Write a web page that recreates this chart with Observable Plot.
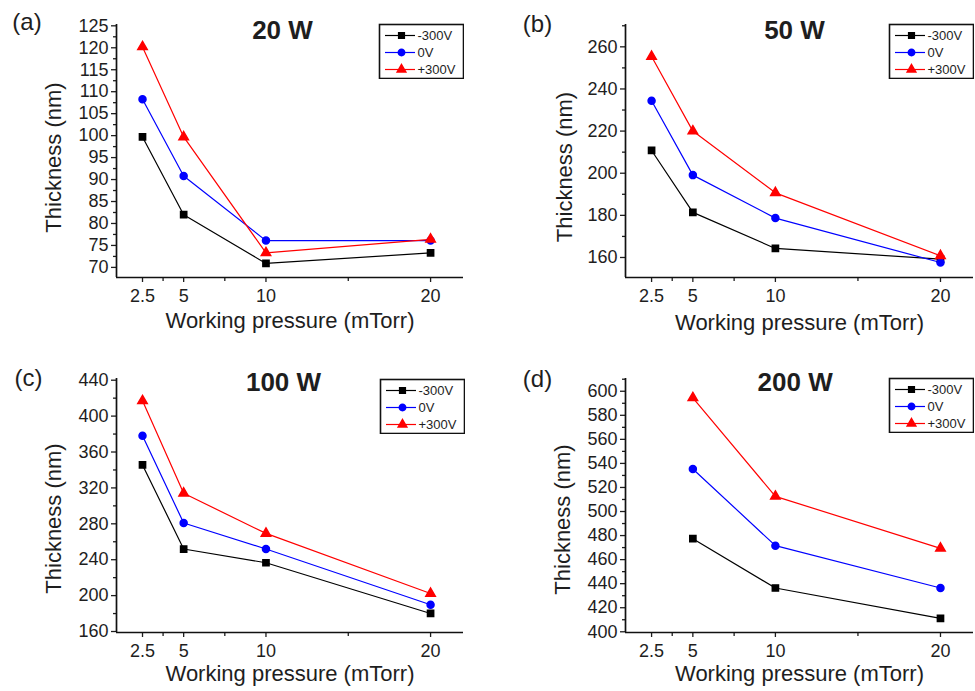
<!DOCTYPE html>
<html><head><meta charset="utf-8">
<script src="https://cdn.jsdelivr.net/npm/d3@7"></script>
<script src="https://cdn.jsdelivr.net/npm/@observablehq/plot@0.6"></script>
<style>
body{margin:0;background:#fff;}
#root{position:relative;width:975px;height:691px;overflow:hidden;background:#fff;font-family:"Liberation Sans",Arial,sans-serif;}
.box{position:absolute;}
</style></head><body><div id="root"></div>
<script>
// ---------- data ----------
const pressures = [2.5, 5, 10, 20];
const pressures200 = [5, 10, 20];
const pressureTicks = [2.5, 5, 10, 20];
const pressureMinorTicks = [3.75, 7.5, 15];
const biasSeries = ["-300V", "0V", "+300V"];
const seriesColors = ["#000000", "#0000ff", "#ff0000"];
const seriesSymbols = ["square", "circle", "triangle"];
const panelLetters = ["(a)", "(b)", "(c)", "(d)"];
const panelTitles = ["20 W", "50 W", "100 W", "200 W"];
const yTitle = "Thickness (nm)";
const xTitle = "Working pressure (mTorr)";

const w20_m300 = [99.7, 82.0, 70.9, 73.3];
const w20_0 = [108.3, 90.8, 76.1, 76.1];
const w20_p300 = [120.2, 99.7, 73.3, 76.4];

const w50_m300 = [210.8, 181.4, 164.3, 159.2];
const w50_0 = [234.4, 199.1, 178.7, 157.6];
const w50_p300 = [255.4, 220.0, 190.7, 160.8];

const w100_m300 = [345.6, 251.9, 236.6, 180.1];
const w100_0 = [378.0, 280.9, 251.9, 189.8];
const w100_p300 = [417.0, 314.0, 269.3, 202.4];

const w200_m300 = [477.4, 436.4, 411.1];
const w200_0 = [535.4, 471.6, 436.4];
const w200_p300 = [594.5, 512.6, 469.4];

const yTicks20 = [70, 75, 80, 85, 90, 95, 100, 105, 110, 115, 120, 125];
const yMinor20 = [72.5, 77.5, 82.5, 87.5, 92.5, 97.5, 102.5, 107.5, 112.5, 117.5, 122.5];
const yTicks50 = [160, 180, 200, 220, 240, 260];
const yMinor50 = [170, 190, 210, 230, 250, 270];
const yTicks100 = [160, 200, 240, 280, 320, 360, 400, 440];
const yMinor100 = [180, 220, 260, 300, 340, 380, 420];
const yTicks200 = [400, 420, 440, 460, 480, 500, 520, 540, 560, 580, 600];
const yMinor200 = [410, 430, 450, 470, 490, 510, 530, 550, 570, 590, 610];

const xDomain = [0.92, 22];
const font = "'Liberation Sans', Arial, sans-serif";
const ink = "#1e1e1e";

// ---------- panels ----------
const panels = [
  {left: 0, top: 0, width: 490, height: 345, m: [24, 27, 68, 116], x: pressures,
   series: [w20_m300, w20_0, w20_p300], yDomain: [67.7, 125.3], yTicks: yTicks20, yMinor: yMinor20,
   title: panelTitles[0], letter: panelLetters[0], titleOff: [-7.5, 6], letterOff: [-89.5, -2],
   yTitleOff: [-63, 6.5], xTitleOff: [0, 43.5], legend: [379, 24]},
  {left: 490, top: 0, width: 485, height: 345, m: [24, 2, 68, 135], x: pressures,
   series: [w50_m300, w50_0, w50_p300], yDomain: [150.5, 270.6], yTicks: yTicks50, yMinor: yMinor50,
   title: panelTitles[1], letter: panelLetters[1], titleOff: [-5, 6], letterOff: [-88, 0],
   yTitleOff: [-61, 16], xTitleOff: [0, 45.5], legend: [889, 24]},
  {left: 0, top: 345, width: 490, height: 346, m: [33, 27, 59, 116], x: pressures,
   series: [w100_m300, w100_0, w100_p300], yDomain: [158.9, 441.9], yTicks: yTicks100, yMinor: yMinor100,
   title: panelTitles[2], letter: panelLetters[2], titleOff: [-6.5, 3.7], letterOff: [-88, 0],
   yTitleOff: [-63, 13], xTitleOff: [0, 41], legend: [380, 379]},
  {left: 490, top: 345, width: 485, height: 346, m: [33, 2, 59, 135], x: pressures200,
   series: [w200_m300, w200_0, w200_p300], yDomain: [399.4, 610.6], yTicks: yTicks200, yMinor: yMinor200,
   title: panelTitles[3], letter: panelLetters[3], titleOff: [-4.3, 3.7], letterOff: [-88, 1],
   yTitleOff: [-63, 14], xTitleOff: [0, 41], legend: [889, 378]}
];

function makePanel(cfg) {
  const rows = [];
  cfg.series.forEach((vals, i) => vals.forEach((v, j) => rows.push({p: cfg.x[j], t: v, s: biasSeries[i]})));
  return Plot.plot({
    width: cfg.width, height: cfg.height,
    marginTop: cfg.m[0], marginRight: cfg.m[1], marginBottom: cfg.m[2], marginLeft: cfg.m[3],
    style: {fontFamily: font, color: ink, background: "transparent", overflow: "visible"},
    x: {domain: xDomain, axis: null},
    y: {domain: cfg.yDomain, axis: null},
    color: {domain: biasSeries, range: seriesColors},
    symbol: {domain: biasSeries, range: seriesSymbols},
    marks: [
      Plot.axisX(pressureTicks, {tickSize: 5, tickPadding: 7, fontSize: 18, strokeWidth: 1.3, label: null, tickFormat: d => String(d)}),
      Plot.axisX(pressureMinorTicks, {tickSize: 4, text: null, label: null, strokeWidth: 1.3}),
      Plot.axisY(cfg.yTicks, {tickSize: 5, tickPadding: 3, fontSize: 18, strokeWidth: 1.3, label: null, tickFormat: d => String(d)}),
      Plot.axisY(cfg.yMinor, {tickSize: 3, text: null, label: null, strokeWidth: 1.3}),
      Plot.ruleX([xDomain[0]], {stroke: "#111", strokeWidth: 1.7}),
      Plot.ruleY([cfg.yDomain[0]], {stroke: "#111", strokeWidth: 1.7}),
      Plot.line(rows, {x: "p", y: "t", z: "s", stroke: "s", strokeWidth: 1.2}),
      Plot.dot(rows, {x: "p", y: "t", symbol: "s", fill: "s", stroke: "s", r: 3.5}),
      Plot.text([cfg.title], {frameAnchor: "top", dx: cfg.titleOff[0], dy: cfg.titleOff[1], lineAnchor: "middle", fontSize: 26, fontWeight: "bold", fill: ink}),
      Plot.text([cfg.letter], {frameAnchor: "top-left", dx: cfg.letterOff[0], dy: cfg.letterOff[1], textAnchor: "middle", lineAnchor: "middle", fontSize: 24, fill: ink}),
      Plot.text([yTitle], {frameAnchor: "left", dx: cfg.yTitleOff[0], dy: cfg.yTitleOff[1], rotate: -90, textAnchor: "middle", lineAnchor: "middle", fontSize: 22, fill: ink}),
      Plot.text([xTitle], {frameAnchor: "bottom", dx: cfg.xTitleOff[0], dy: cfg.xTitleOff[1], textAnchor: "middle", lineAnchor: "middle", fontSize: 22, fill: ink})
    ]
  });
}

function makeLegend() {
  return Plot.plot({
    width: 86, height: 56, margin: 1,
    style: {fontFamily: font, color: ink, background: "white"},
    x: {domain: [0, 1], axis: null},
    y: {type: "point", domain: biasSeries, range: [12, 46], padding: 0, axis: null},
    color: {domain: biasSeries, range: seriesColors},
    symbol: {domain: biasSeries, range: seriesSymbols},
    marks: [
      Plot.frame({stroke: "#111", strokeWidth: 1.6, fill: "white"}),
      Plot.ruleY(biasSeries, {y: d => d, stroke: d => d, strokeWidth: 1.2, insetLeft: 6, insetRight: 48}),
      Plot.dot(biasSeries, {y: d => d, frameAnchor: "left", dx: 22, symbol: d => d, fill: d => d, stroke: d => d, r: 3.2}),
      Plot.text(biasSeries, {y: d => d, frameAnchor: "left", dx: 38, text: d => d, textAnchor: "start", fontSize: 13, fill: ink})
    ]
  });
}

const root = document.getElementById("root");
panels.forEach(cfg => {
  const div = document.createElement("div");
  div.className = "box";
  div.style.left = cfg.left + "px";
  div.style.top = cfg.top + "px";
  div.appendChild(makePanel(cfg));
  root.appendChild(div);
  const lg = document.createElement("div");
  lg.className = "box";
  lg.style.left = (cfg.legend[0] - 1) + "px";
  lg.style.top = (cfg.legend[1] - 1) + "px";
  lg.appendChild(makeLegend());
  root.appendChild(lg);
});
</script>
</body></html>
